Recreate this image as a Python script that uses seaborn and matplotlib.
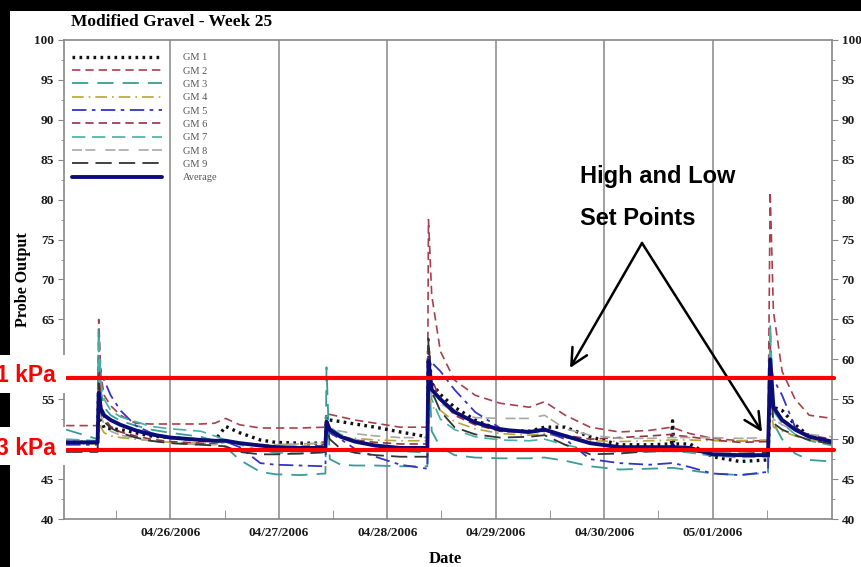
import matplotlib
matplotlib.use("Agg")
import matplotlib.pyplot as plt
from matplotlib.patches import Rectangle
from matplotlib.ticker import MultipleLocator, FixedLocator
import seaborn as sns
import pandas as pd

# time in days from 04/25/2006 00:00
days = [0.04, 0.33, 0.34, 0.36, 0.39, 0.45, 0.54, 0.68, 0.82, 1.00,
        1.28, 1.41, 1.51, 1.64, 1.83, 1.97, 2.20, 2.43, 2.44, 2.47,
        2.57, 2.70, 2.89, 3.12, 3.37, 3.38, 3.41, 3.49, 3.62, 3.81,
        4.04, 4.31, 4.45, 4.64, 4.87, 5.14, 5.42, 5.62, 5.63, 5.64,
        5.79, 6.00, 6.25, 6.51, 6.53, 6.56, 6.64, 6.76, 6.89, 7.10]

gm1 = [49.6, 49.6, 57.0, 52.5, 51.4, 51.3, 51.2, 50.8, 50.4, 50.2,
       49.9, 49.8, 51.6, 50.8, 49.9, 49.6, 49.5, 49.5, 52.8, 52.4,
       52.2, 51.9, 51.5, 50.9, 50.3, 61.0, 57.0, 55.6, 54.0, 52.4,
       51.1, 51.0, 51.5, 51.5, 50.3, 49.3, 49.3, 49.4, 52.3, 49.4,
       49.4, 47.8, 47.2, 47.4, 56.0, 54.0, 53.6, 51.8, 50.4, 49.6]
gm2 = [51.7, 51.7, 65.0, 58.0, 55.5, 54.2, 53.0, 52.0, 51.9, 51.9,
       51.9, 52.0, 52.6, 51.8, 51.4, 51.4, 51.4, 51.5, 53.3, 53.1,
       52.8, 52.4, 52.0, 51.5, 51.5, 77.5, 68.0, 61.0, 57.4, 55.5,
       54.5, 54.0, 54.7, 53.0, 51.5, 50.9, 51.1, 51.5, 51.5, 51.4,
       50.7, 50.1, 49.8, 49.8, 81.0, 66.0, 58.5, 55.0, 53.0, 52.6]
gm3 = [51.2, 50.0, 64.0, 56.0, 54.0, 53.0, 52.3, 51.7, 51.2, 50.8,
       50.3, 49.8, 49.0, 47.4, 45.9, 45.6, 45.5, 45.7, 59.0, 47.5,
       46.8, 46.7, 46.7, 46.6, 46.6, 60.0, 51.0, 49.0, 48.0, 47.7,
       47.6, 47.6, 47.7, 47.3, 46.6, 46.2, 46.3, 46.4, 46.4, 46.4,
       46.1, 45.7, 45.5, 45.8, 64.5, 52.0, 50.0, 48.2, 47.4, 47.2]
gm4 = [49.4, 49.4, 53.0, 51.5, 50.8, 50.4, 50.2, 50.0, 49.8, 49.6,
       49.5, 49.5, 49.7, 49.5, 49.3, 49.3, 49.4, 49.5, 51.0, 50.6,
       50.3, 50.1, 49.9, 49.8, 49.8, 56.0, 54.0, 53.6, 52.2, 51.3,
       50.7, 50.5, 50.7, 50.2, 49.8, 49.7, 49.8, 49.9, 49.9, 49.9,
       49.9, 49.8, 49.8, 49.9, 55.0, 51.5, 51.0, 50.4, 49.9, 49.6]
gm5 = [49.3, 49.3, 60.0, 58.5, 57.4, 55.5, 53.6, 51.7, 50.8, 50.2,
       49.9, 49.8, 49.7, 49.0, 47.0, 46.8, 46.7, 46.6, 51.5, 50.8,
       50.0, 48.8, 47.8, 46.8, 46.3, 60.3, 59.6, 58.5, 56.2, 53.4,
       51.4, 50.9, 51.0, 50.0, 47.5, 47.0, 46.8, 47.0, 47.0, 47.0,
       46.5, 45.7, 45.5, 45.9, 60.0, 57.5, 55.5, 51.5, 50.3, 49.6]
gm6 = [48.6, 48.6, 60.0, 54.5, 52.6, 51.6, 50.9, 50.4, 50.0, 49.7,
       49.5, 49.4, 49.8, 49.5, 49.2, 49.0, 49.1, 49.2, 51.8, 51.0,
       50.4, 49.9, 49.6, 49.4, 49.4, 62.0, 57.5, 55.0, 53.0, 51.8,
       51.0, 50.8, 51.1, 50.5, 50.0, 50.2, 50.4, 50.6, 50.6, 50.5,
       50.3, 49.9, 49.6, 49.7, 62.0, 54.0, 52.5, 51.4, 50.5, 50.0]
gm7 = [50.0, 49.8, 63.0, 57.0, 55.0, 53.6, 52.8, 52.2, 51.6, 51.3,
       51.0, 50.4, 49.9, 49.3, 48.6, 48.3, 48.2, 48.3, 52.5, 51.5,
       50.6, 49.9, 49.2, 48.5, 48.3, 58.5, 55.0, 52.5, 51.2, 50.3,
       49.9, 49.8, 50.0, 49.3, 48.6, 48.4, 48.4, 48.5, 48.5, 48.5,
       48.3, 47.9, 47.7, 47.8, 64.0, 53.5, 52.0, 50.6, 49.8, 49.2]
gm8 = [49.5, 49.5, 56.5, 53.0, 51.8, 51.0, 50.5, 50.1, 49.8, 49.5,
       49.3, 49.3, 49.6, 49.5, 49.3, 49.3, 49.4, 49.5, 51.6, 51.3,
       51.0, 50.7, 50.4, 50.2, 50.2, 58.0, 55.5, 54.5, 53.3, 52.7,
       52.6, 52.6, 53.0, 51.3, 50.5, 50.1, 50.1, 50.2, 50.2, 50.2,
       50.2, 50.2, 50.1, 50.2, 58.0, 52.5, 51.8, 51.1, 50.6, 50.3]
gm9 = [48.4, 48.4, 57.0, 53.5, 52.2, 51.4, 50.8, 50.2, 49.8, 49.5,
       49.3, 49.2, 49.1, 48.4, 48.1, 48.1, 48.2, 48.4, 51.5, 50.0,
       48.8, 48.3, 48.0, 47.8, 47.8, 62.6, 56.0, 53.5, 51.5, 50.6,
       50.2, 50.3, 50.5, 49.3, 48.1, 48.2, 48.5, 48.5, 48.5, 48.5,
       48.5, 48.2, 48.2, 48.3, 57.0, 52.0, 51.2, 50.5, 49.9, 49.4]
average = [49.6, 49.6, 55.8, 53.8, 53.0, 52.4, 51.8, 51.1, 50.6, 50.2,
           49.9, 49.8, 49.8, 49.5, 49.2, 49.0, 48.9, 48.9, 52.2, 51.2,
           50.3, 49.7, 49.2, 48.9, 48.9, 59.8, 56.2, 55.0, 53.4, 52.1,
           51.2, 50.9, 51.2, 50.4, 49.5, 49.0, 49.0, 49.0, 49.3, 49.0,
           48.9, 48.1, 48.0, 48.0, 60.0, 54.0, 52.4, 51.2, 50.3, 49.7]

series_names = ["GM 1", "GM 2", "GM 3", "GM 4", "GM 5", "GM 6", "GM 7", "GM 8", "GM 9", "Average"]
series_values = [gm1, gm2, gm3, gm4, gm5, gm6, gm7, gm8, gm9, average]

date_ticks = [1, 2, 3, 4, 5, 6]
date_labels = ["04/26/2006", "04/27/2006", "04/28/2006", "04/29/2006", "04/30/2006", "05/01/2006"]
setpoints = [57.6, 48.6]
setpoint_labels = ["1 kPa", "3 kPa"]

colors = ["#111111", "#a8404c", "#3a9c98", "#b5a63a", "#3434c8",
          "#983040", "#46b0a6", "#a8a8a8", "#333333", "#0c0c78"]
styles = [(0, (0.8, 1.3)), (0, (5, 3)), (0, (9, 5)), (0, (7, 3, 1, 3)), (0, (8, 3, 2, 3)),
          (0, (5, 3)), (0, (8, 4)), (0, (6, 2, 6, 6)), (0, (9, 4)), "-"]
widths = [2.4, 1.2, 1.3, 1.2, 1.3, 1.2, 1.2, 1.2, 1.3, 2.8]

sns.set_style("white")
plt.rcParams["font.family"] = ["Liberation Serif", "DejaVu Serif"]
plt.rcParams["text.color"] = "black"
plt.rcParams["axes.labelcolor"] = "black"
plt.rcParams["xtick.labelcolor"] = "#1a1a1a"
plt.rcParams["ytick.labelcolor"] = "#1a1a1a"

fig = plt.figure(figsize=(8.61, 5.67), dpi=100, facecolor="black")
fig.patches.append(Rectangle((10 / 861, 0), 1, 1 - 11 / 567, transform=fig.transFigure,
                             facecolor="white", edgecolor="none", zorder=-10))
ax = fig.add_axes([64 / 861, 48 / 567, 768 / 861, 479 / 567])

df = pd.DataFrame({"days": days})
for name, vals, c, ls, lw in zip(series_names, series_values, colors, styles, widths):
    df[name] = vals
    sns.lineplot(x="days", y=name, data=df, ax=ax, color=c, linestyle=ls, linewidth=lw, label=name)

ax.set_xlim(0.02, 7.10)
ax.set_ylim(40, 100)
ax.yaxis.set_major_locator(MultipleLocator(5))
ax.yaxis.set_minor_locator(MultipleLocator(2.5))
ax.xaxis.set_major_locator(FixedLocator(date_ticks))
ax.set_xticklabels(date_labels)
ax.xaxis.set_minor_locator(FixedLocator([d - 0.5 for d in date_ticks] + [6.5]))
ax.grid(axis="x", color="#9a9a9a", linewidth=1.3)
ax.tick_params(axis="y", which="both", left=True, right=True, labelleft=True, labelright=True,
               direction="out", color="#888888", labelsize=9.5, pad=3)
ax.tick_params(axis="y", which="major", length=4)
ax.tick_params(axis="y", which="minor", length=2.5)
ax.tick_params(axis="x", which="major", length=0, labelsize=9.5, pad=6)
ax.tick_params(axis="x", which="minor", bottom=True, direction="in", length=6.5, color="#888888")
for lab in ax.get_xticklabels():
    lab.set_fontweight("bold")
for t in ax.yaxis.get_major_ticks():
    t.label1.set_fontweight("bold")
    t.label2.set_fontweight("bold")
# the left labels 60 and 50 sit under the white set point boxes in the slide
for t, loc in zip(ax.yaxis.get_major_ticks(), ax.get_yticks()):
    if loc in (50, 60):
        t.label1.set_visible(False)
for sp in ax.spines.values():
    sp.set_color("#888888")
    sp.set_linewidth(1.2)

ax.set_xlabel("Date", fontsize=12, fontweight="bold")
ax.xaxis.set_label_coords((445 - 64) / 768, (519 - 551) / 479)
ax.set_ylabel("Probe Output", fontsize=11.5, fontweight="bold")
ax.yaxis.set_label_coords((31 - 64) / 768, (519 - 280) / 479)
fig.text(71 / 861, 1 - 22 / 567, "Modified Gravel - Week 25", fontsize=12.5, fontweight="bold",
         ha="left", va="center")

leg = ax.legend(loc="upper left", bbox_to_anchor=(72 / 861, 1 - 53 / 567),
                bbox_transform=fig.transFigure, frameon=False, fontsize=7.5,
                handlelength=8.65, handletextpad=2.0, labelspacing=0.39,
                borderpad=0, borderaxespad=0)
for txt in leg.get_texts():
    txt.set_color("#555555")

# set points
for sp_val in setpoints:
    ax.axhline(sp_val, xmin=0.004, xmax=1.003, color="#ff0000", linewidth=3, clip_on=False, zorder=5)

box_tops = [355, 427]
baselines = [382, 455]
for top, base, lab in zip(box_tops, baselines, setpoint_labels):
    fig.patches.append(Rectangle((0, 1 - (top + 38) / 567), 66 / 861, 38 / 567,
                                 transform=fig.transFigure, facecolor="white",
                                 edgecolor="none", zorder=2))
    fig.text(56 / 861, 1 - base / 567, lab, color="#ff0000", fontsize=16.5, fontweight="bold",
             family=["Liberation Sans", "DejaVu Sans"], ha="right", va="baseline", zorder=3)

fig.text(580 / 861, 1 - 183 / 567, "High and Low", fontsize=17, fontweight="bold",
         family=["Liberation Sans", "DejaVu Sans"], ha="left", va="baseline")
fig.text(580 / 861, 1 - 225 / 567, "Set Points", fontsize=17, fontweight="bold",
         family=["Liberation Sans", "DejaVu Sans"], ha="left", va="baseline")
apex = (642 / 861, 1 - 243 / 567)
for end in [(570 / 861, 1 - 368 / 567), (762 / 861, 1 - 432 / 567)]:
    ax.annotate("", xy=end, xycoords="figure fraction", xytext=apex, textcoords="figure fraction",
                arrowprops=dict(arrowstyle="->,head_length=0.6,head_width=0.3", color="black",
                                lw=1.8, mutation_scale=20, shrinkA=0, shrinkB=0))

fig.savefig("out.png", dpi=100, facecolor="black")
